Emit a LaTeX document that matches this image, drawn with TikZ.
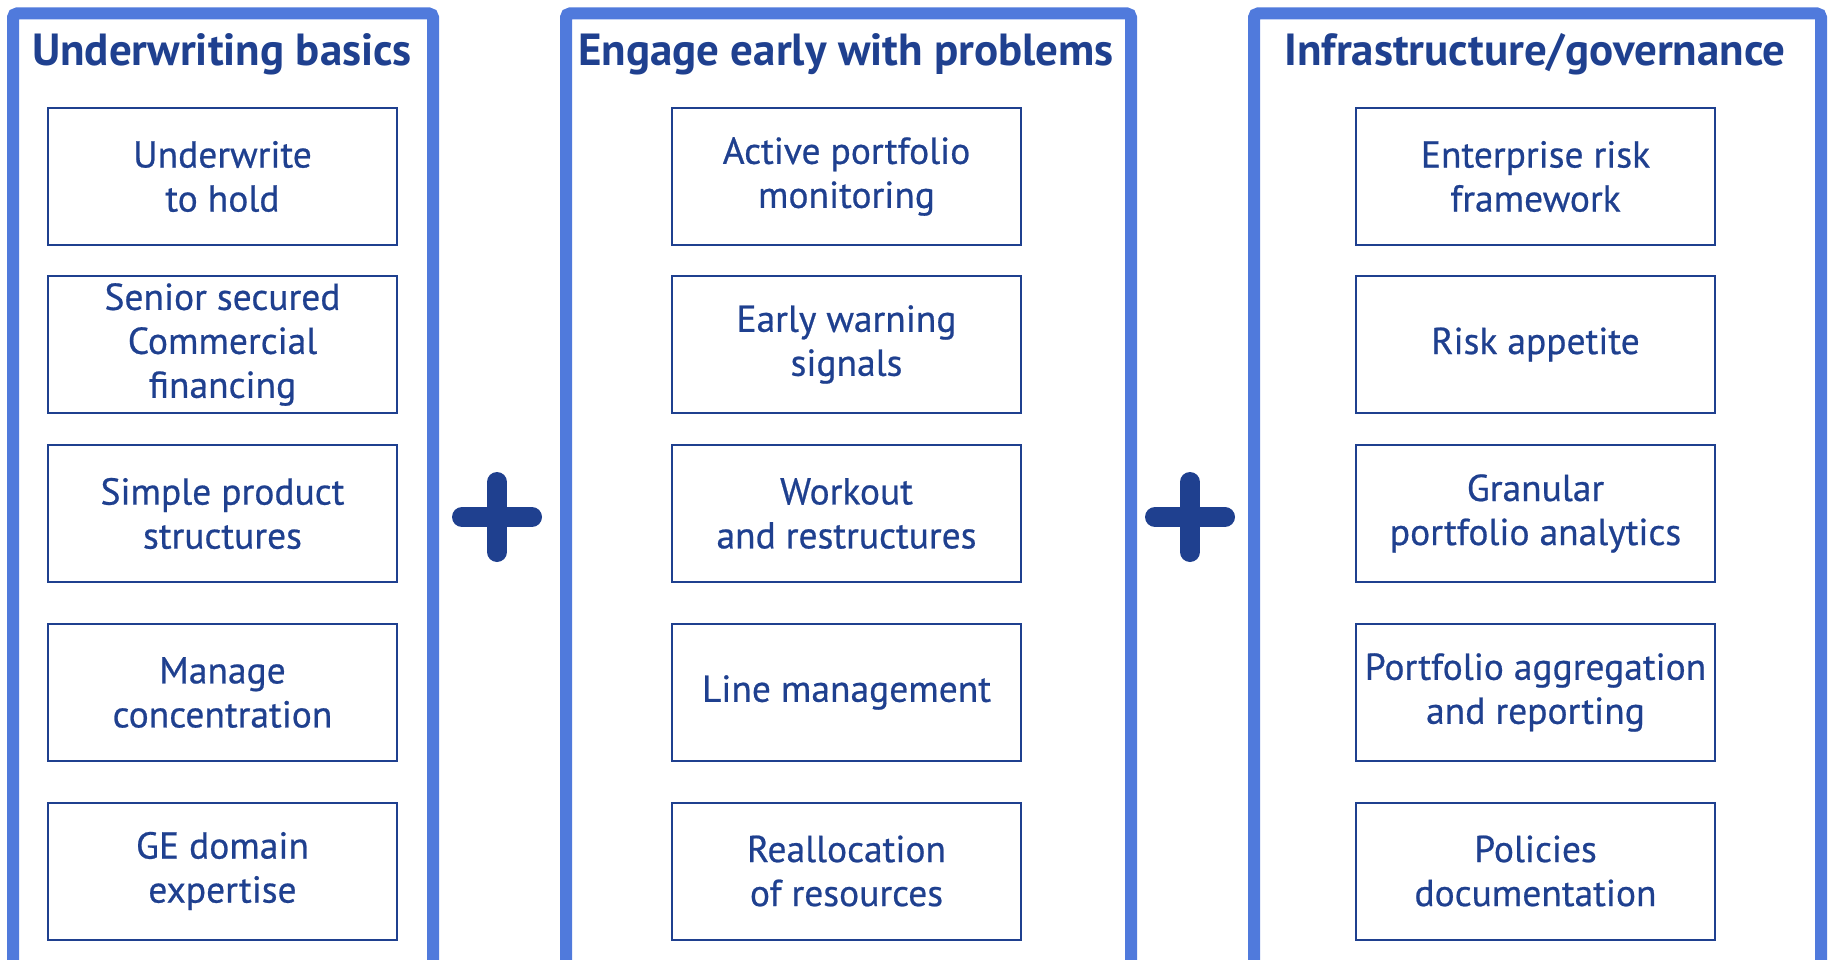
\documentclass[tikz,border=0pt]{standalone}
\usepackage{fontspec}
\setmainfont{PT Sans}
\newfontfamily\itemfont[FakeBold=0.6]{PT Sans}
\definecolor{panelblue}{RGB}{80,122,220}
\definecolor{navy}{RGB}{31,64,143}
\tikzset{
    panel/.style={draw=panelblue, line width=12pt, rounded corners=4pt},
    heading/.style={anchor=base, text=navy, font=\bfseries\fontsize{45}{52}\selectfont},
    item/.style={draw=navy, line width=2pt, text=navy, align=center,
        minimum height=137pt, inner sep=0pt, font=\itemfont\fontsize{37.5}{44}\selectfont},
    plussign/.style={draw=navy, line width=20pt, line cap=round}
}
\begin{document}
\begin{tikzpicture}[x=1pt, y=-1pt]
        \useasboundingbox (0,0) rectangle (1829,960);
        \clip (0,0) rectangle (1829,960);
        % three panels
        \draw[panel] (13,13.5) rectangle (433,990);
        \draw[panel] (566,13.5) rectangle (1131,990);
        \draw[panel] (1254,13.5) rectangle (1821,990);
        \node[heading] (hbasics) at (222,66) {Underwriting basics};
        \node[heading] (hengage) at (846,66) {Engage early with problems};
        \node[heading] (hinfra) at (1535,66) {Infrastructure/governance};
        % left column
        \node[item, minimum width=349pt] (hold) at (222.5,176.5) {Underwrite\\ to hold};
        \node[item, minimum width=349pt] (senior) at (222.5,344.5) {Senior secured\\ Commercial\\ financing};
        \node[item, minimum width=349pt] (simple) at (222.5,513.5) {Simple product\\ structures};
        \node[item, minimum width=349pt] (conc) at (222.5,692.5) {Manage\\ concentration};
        \node[item, minimum width=349pt] (domain) at (222.5,871) {GE domain\\ expertise};
        % middle column
        \node[item, minimum width=349pt] (monitor) at (846.5,176.5) {Active portfolio\\ monitoring};
        \node[item, minimum width=349pt] (warning) at (846.5,344.5) {Early warning\\ signals};
        \node[item, minimum width=349pt] (workout) at (846.5,513.5) {Workout\\ and restructures};
        \node[item, minimum width=349pt] (line) at (846.5,692.5) {Line management};
        \node[item, minimum width=349pt] (realloc) at (846.5,871) {Reallocation\\ of resources};
        % right column
        \node[item, minimum width=359pt] (erf) at (1535.5,176.5) {Enterprise risk\\ framework};
        \node[item, minimum width=359pt] (appetite) at (1535.5,344.5) {Risk appetite};
        \node[item, minimum width=359pt] (granular) at (1535.5,513.5) {Granular\\ portfolio analytics};
        \node[item, minimum width=359pt] (aggreg) at (1535.5,692.5) {Portfolio aggregation\\ and reporting};
        \node[item, minimum width=359pt] (policies) at (1535.5,871) {Policies\\ documentation};
        % plus signs
        \draw[plussign] (462,517) -- (532,517) (497,482) -- (497,552);
        \draw[plussign] (1155,517) -- (1225,517) (1190,482) -- (1190,552);
    \end{tikzpicture}
\end{document}
